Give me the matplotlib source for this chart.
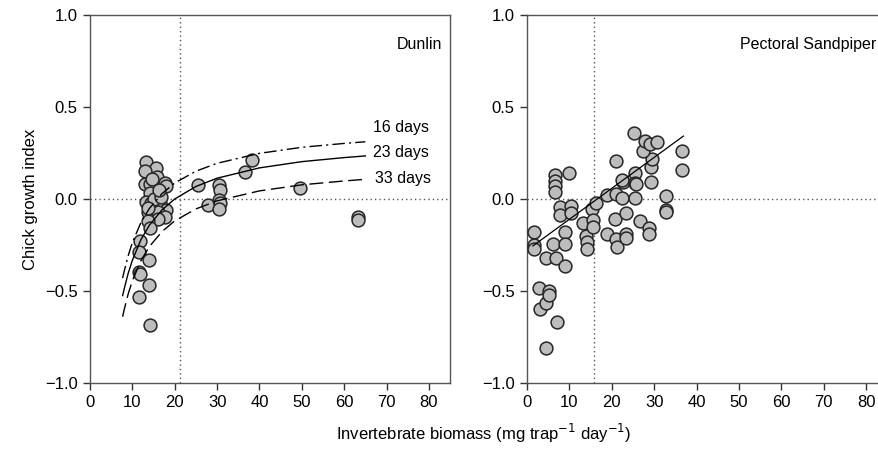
import numpy as np
import matplotlib
matplotlib.use("Agg")
import matplotlib.pyplot as plt

plt.rcParams['font.family'] = ['Liberation Sans', 'DejaVu Sans']

# Dunlin observations (biomass, growth index)
dunlin_x = [13.3, 15.5, 15.8, 12.9, 14.1, 17.6, 17.9, 15.7, 14.1, 13.3, 16.5, 14.5,
            17.9, 13.7, 16.1, 17.6, 16.1, 13.7, 14.1, 11.8, 11.6, 14.0, 11.6, 11.7,
            14.0, 11.6, 14.1, 13.0, 15.0, 16.8, 14.6, 16.4, 13.6,
            25.6, 27.8, 30.4, 30.6, 30.4, 30.6, 30.4, 36.7, 38.3, 49.6, 63.3, 63.3]
dunlin_y = [0.20, 0.17, 0.12, 0.08, 0.08, 0.085, 0.07, 0.03, 0.03, -0.015, -0.02, -0.02,
            -0.06, -0.07, -0.07, -0.10, -0.11, -0.12, -0.16, -0.23, -0.29, -0.33, -0.395, -0.41,
            -0.47, -0.53, -0.685, 0.15, 0.0, 0.01, 0.11, 0.05, -0.05,
            0.076, -0.03, 0.076, 0.05, -0.005, -0.024, -0.056, 0.145, 0.21, 0.058, -0.10, -0.115]

# fitted curves for chick age
curve_x = [7.7, 8, 9, 10, 12, 14, 17, 20, 25, 30, 40, 50, 60, 65]
curve_16 = [-0.430, -0.399, -0.309, -0.237, -0.129, -0.052, 0.029, 0.087, 0.151, 0.194,
            0.248, 0.281, 0.302, 0.311]
curve_23 = [-0.525, -0.495, -0.405, -0.333, -0.222, -0.143, -0.059, 0.0, 0.068, 0.113,
            0.169, 0.203, 0.225, 0.234]
curve_33 = [-0.640, -0.608, -0.517, -0.445, -0.336, -0.259, -0.177, -0.119, -0.054, -0.010,
            0.044, 0.077, 0.098, 0.107]

# Pectoral Sandpiper observations
pect_x = [1.7, 1.6, 1.7, 2.9, 3.1, 4.6, 5.3, 5.3, 4.6, 4.6, 6.8, 6.2, 9.0, 7.0,
          6.6, 6.6, 6.6, 6.6, 10.0, 7.9, 7.9, 10.4, 10.4, 9.0, 9.0, 13.1, 13.9, 14.1,
          14.1, 15.3, 15.5, 15.5, 16.3, 18.8, 21.0, 18.8, 20.8, 21.0, 21.3, 22.3, 23.3,
          23.3, 23.3, 22.6, 21.0, 25.5, 25.5, 25.5, 26.6, 28.8, 28.8, 29.2, 29.2, 29.6,
          32.8, 32.8, 32.8, 36.5, 36.5, 25.2, 27.3, 27.8, 29.0, 30.6, 25.7, 22.3]
pect_y = [-0.18, -0.25, -0.27, -0.485, -0.60, -0.565, -0.50, -0.52, -0.81, -0.32, -0.32,
          -0.245, -0.365, -0.67, 0.13, 0.10, 0.07, 0.04, 0.14, -0.045, -0.087, -0.038,
          -0.078, -0.178, -0.245, -0.13, -0.20, -0.232, -0.273, -0.056, -0.114, -0.15,
          -0.02, 0.02, 0.026, -0.19, -0.11, -0.22, -0.26, 0.007, -0.078, -0.19, -0.21,
          0.094, 0.206, 0.143, 0.089, 0.006, -0.12, -0.155, -0.19, 0.176, 0.094, 0.217,
          0.016, -0.06, -0.068, 0.16, 0.263, 0.357, 0.26, 0.315, 0.30, 0.31, 0.08, 0.103]
reg_x = [1.4, 36.9]
reg_y = [-0.255, 0.342]

xticks = [0, 10, 20, 30, 40, 50, 60, 70, 80]
yticks = [-1.0, -0.5, 0.0, 0.5, 1.0]

fig = plt.figure(figsize=(8.79, 4.5), dpi=100)
ax1 = fig.add_axes([0.1024, 0.1489, 0.4096, 0.8178])
ax2 = fig.add_axes([0.5995, 0.1489, 0.41, 0.8178])

dot = dict(color='#555555', lw=1.0, linestyle=(0, (1, 2.2)), zorder=1)
mk = dict(s=85, facecolor='#bdbdbd', edgecolor='#262626', linewidths=1.1, zorder=3)

# Dunlin panel
ax1.axhline(0, **dot)
ax1.axvline(21.2, **dot)
ax1.scatter(dunlin_x, dunlin_y, **mk)
ax1.plot(curve_x, curve_16, color='black', lw=1.0, linestyle=(0, (9, 3, 1.5, 3)), zorder=4)
ax1.plot(curve_x, curve_23, color='black', lw=1.0, zorder=4)
ax1.plot(curve_x, curve_33, color='black', lw=1.0, linestyle=(0, (10, 4)), zorder=4)
ax1.text(66.8, 0.386, '16 days', fontsize=11.5, va='center')
ax1.text(66.8, 0.25, '23 days', fontsize=11.5, va='center')
ax1.text(67.4, 0.114, '33 days', fontsize=11.5, va='center')
ax1.text(83.1, 0.84, 'Dunlin', fontsize=11.5, ha='right', va='center')

# Pectoral Sandpiper panel
ax2.axhline(0, **dot)
ax2.axvline(15.8, **dot)
ax2.scatter(pect_x, pect_y, **mk)
ax2.plot(reg_x, reg_y, color='black', lw=0.9, zorder=4)
ax2.text(82.3, 0.84, 'Pectoral Sandpiper', fontsize=11.5, ha='right', va='center')

for ax in (ax1, ax2):
    ax.set_xlim(0, 85)
    ax.set_ylim(-1.0, 1.0)
    ax.set_xticks(xticks)
    ax.set_yticks(yticks)
    ax.set_yticklabels(['\u22121.0', '\u22120.5', '0.0', '0.5', '1.0'])
    ax.tick_params(direction='out', length=5, width=1, colors='#333333',
                   labelsize=12, labelcolor='black', pad=4)
    for sp in ax.spines.values():
        sp.set_color('#555555')
        sp.set_linewidth(1.0)

ax1.set_ylabel('Chick growth index', fontsize=12, labelpad=5)
fig.text(0.55, 0.012, 'Invertebrate biomass (mg trap$^{-1}$ day$^{-1}$)',
         fontsize=12, ha='center', va='bottom')

fig.savefig('out.png', dpi=100)
